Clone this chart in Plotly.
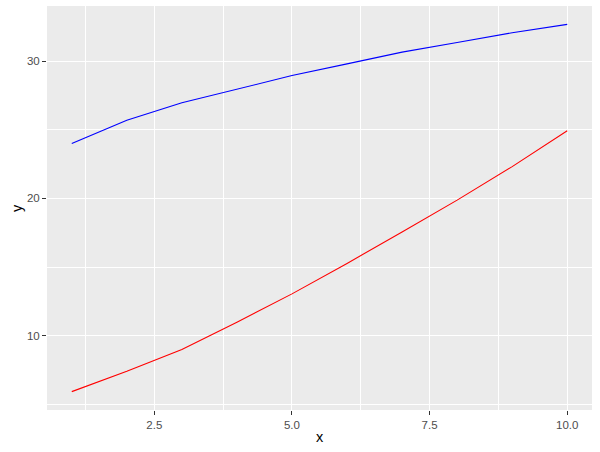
import plotly.graph_objects as go

x_vals = [1, 2, 3, 4, 5, 6, 7, 8, 9, 10]
blue_y = [24.0, 25.7, 26.97, 27.98, 28.95, 29.8, 30.66, 31.36, 32.07, 32.68]
red_y = [5.93, 7.41, 9.0, 10.98, 13.05, 15.27, 17.56, 19.88, 22.32, 24.93]

x_ticks = [2.5, 5.0, 7.5, 10.0]
y_ticks = [10, 20, 30]

fig = go.Figure()
fig.add_trace(go.Scatter(x=x_vals, y=blue_y, mode="lines",
                         line=dict(color="#0000FF", width=1.1), showlegend=False))
fig.add_trace(go.Scatter(x=x_vals, y=red_y, mode="lines",
                         line=dict(color="#FF0000", width=1.1), showlegend=False))

all_y = blue_y + red_y
ymin, ymax = min(all_y), max(all_y)
yexp = 0.05 * (ymax - ymin)
xmin, xmax = min(x_vals), max(x_vals)
xexp = 0.05 * (xmax - xmin)

font_family = "Liberation Sans, Arial, sans-serif"

fig.update_layout(
    width=600, height=452,
    margin=dict(l=47, r=8, t=6, b=42, autoexpand=False),
    paper_bgcolor="white",
    plot_bgcolor="#EBEBEB",
    font=dict(family=font_family),
    xaxis=dict(
        range=[xmin - xexp, xmax + xexp], automargin=False,
        tickvals=x_ticks, ticktext=[f"{v:.1f}" for v in x_ticks],
        ticks="outside", ticklen=4, tickwidth=1.1, tickcolor="#333333",
        tickfont=dict(size=11.5, color="#4D4D4D", family=font_family),
        showgrid=True, gridcolor="white", gridwidth=1.4,
        minor=dict(tickvals=[1.25, 3.75, 6.25, 8.75], showgrid=True,
                   gridcolor="white", gridwidth=0.7, ticks=""),
        zeroline=False, showline=False,
    ),
    yaxis=dict(
        range=[ymin - yexp, ymax + yexp], automargin=False,
        tickvals=y_ticks, ticktext=[str(v) for v in y_ticks],
        ticks="outside", ticklen=4, tickwidth=1.1, tickcolor="#333333",
        tickfont=dict(size=11.5, color="#4D4D4D", family=font_family),
        showgrid=True, gridcolor="white", gridwidth=1.4,
        minor=dict(tickvals=[5, 15, 25], showgrid=True,
                   gridcolor="white", gridwidth=0.7, ticks=""),
        zeroline=False, showline=False,
    ),
    annotations=[
        dict(text="x", xref="paper", yref="paper", x=0.5, y=0, yshift=-27,
             xanchor="center", yanchor="middle", showarrow=False,
             font=dict(size=14.5, color="black", family=font_family)),
        dict(text="y", xref="paper", yref="paper", x=0, y=0.5, xshift=-30,
             xanchor="center", yanchor="middle", showarrow=False, textangle=-90,
             font=dict(size=14.5, color="black", family=font_family)),
    ],
)

fig.write_html("out.html",
               config={"displayModeBar": False},
               post_script="document.body.style.margin='0';document.body.style.padding='0';")
